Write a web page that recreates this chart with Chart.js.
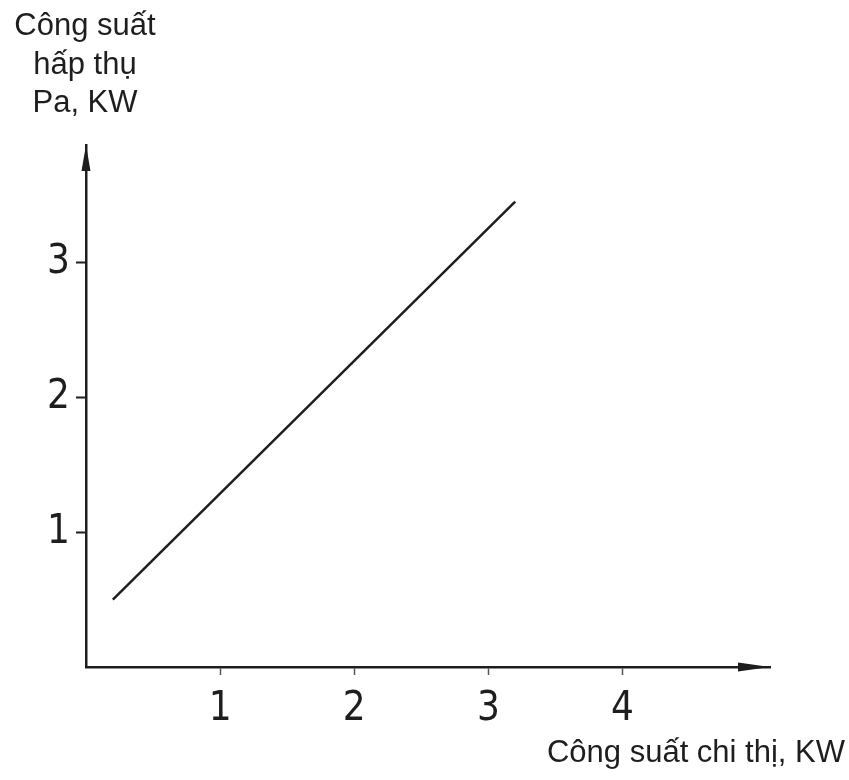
<!DOCTYPE html>
<html>
<head>
<meta charset="utf-8">
<script src="https://cdn.jsdelivr.net/npm/chart.js@4/dist/chart.umd.min.js"></script>
<style>
  html, body { margin: 0; padding: 0; background: #ffffff; }
  #wrap { width: 849px; height: 780px; position: relative; }
</style>
</head>
<body>
<div id="wrap"><canvas id="c" width="849" height="780"></canvas></div>
<script>
// ---- data ----
const xValues = [0.2, 3.2];
const yValues = [0.5, 3.45];
const xTicks = [1, 2, 3, 4];
const yTicks = [1, 2, 3];
const xTitle = 'Công suất chi thị, KW';
const yTitleLines = ['Công suất', 'hấp thụ', 'Pa, KW'];
const xMax = 5.1;
const yMax = 3.87;

// ---- style ----
const INK = '#1e1e1e';
const TICK_FONT = { family: '"Liberation Sans Narrow", "DejaVu Sans Condensed", sans-serif', size: 40 };

const points = xValues.map((x, i) => ({ x: x, y: yValues[i] }));

const axisDecor = {
  id: 'axisDecor',
  afterDraw(chart) {
    const { ctx, chartArea: a } = chart;
    ctx.save();
    ctx.fillStyle = INK;
    // y arrow head
    ctx.beginPath();
    ctx.moveTo(a.left, a.top);
    ctx.lineTo(a.left - 4.5, a.top + 26);
    ctx.lineTo(a.left + 4.5, a.top + 26);
    ctx.closePath();
    ctx.fill();
    // x arrow head
    ctx.beginPath();
    ctx.moveTo(a.right, a.bottom);
    ctx.lineTo(a.right - 32, a.bottom - 4.5);
    ctx.lineTo(a.right - 32, a.bottom + 4.5);
    ctx.closePath();
    ctx.fill();
    // axis titles
    ctx.font = '31px "Liberation Sans", Arial, sans-serif';
    ctx.textBaseline = 'alphabetic';
    ctx.textAlign = 'center';
    yTitleLines.forEach((t, i) => ctx.fillText(t, 85, 35 + i * 38.5));
    ctx.textAlign = 'right';
    ctx.fillText(xTitle, 845, 762);
    ctx.restore();
  }
};

new Chart(document.getElementById('c'), {
  type: 'scatter',
  data: {
    datasets: [{
      data: points,
      showLine: true,
      borderColor: INK,
      borderWidth: 2.5,
      pointRadius: 0,
      tension: 0,
      fill: false
    }]
  },
  options: {
    responsive: false,
    animation: false,
    devicePixelRatio: 1,
    layout: { padding: { left: 0, right: 79, top: 145, bottom: 0 } },
    plugins: { legend: { display: false }, tooltip: { enabled: false }, title: { display: false } },
    scales: {
      x: {
        type: 'linear',
        min: 0,
        max: xMax,
        afterBuildTicks: ax => { ax.ticks = xTicks.map(v => ({ value: v })); },
        afterFit: ax => { ax.height = 113; },
        grid: { drawOnChartArea: false, drawTicks: true, tickLength: 8, tickWidth: 1.5, tickColor: '#555' },
        border: { display: true, color: INK, width: 2.5 },
        ticks: { font: TICK_FONT, color: INK, padding: 11, maxRotation: 0, autoSkip: false }
      },
      y: {
        type: 'linear',
        min: 0,
        max: yMax,
        afterBuildTicks: ax => { ax.ticks = yTicks.map(v => ({ value: v })); },
        afterFit: ax => { ax.width = 86; },
        grid: { drawOnChartArea: false, drawTicks: true, tickLength: 10, tickWidth: 2, tickColor: INK },
        border: { display: true, color: INK, width: 2.5 },
        ticks: { font: TICK_FONT, color: INK, padding: 6, autoSkip: false }
      }
    }
  },
  plugins: [axisDecor]
});
</script>
</body>
</html>
